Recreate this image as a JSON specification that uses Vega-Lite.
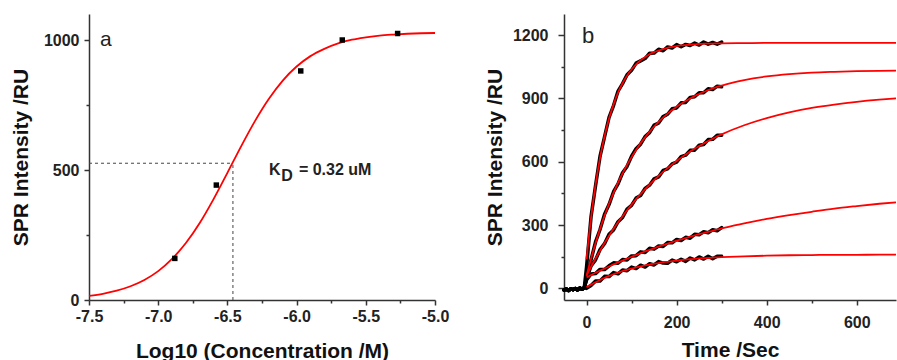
{
  "$schema": "https://vega.github.io/schema/vega-lite/v6.json",
  "background": "white",
  "padding": {"left": 10, "top": 14, "right": 0, "bottom": 0},
  "spacing": 35,
  "config": {
    "view": {"stroke": null},
    "font": "Liberation Sans",
    "axis": {
      "grid": false,
      "domainColor": "#333",
      "domainWidth": 1.5,
      "tickColor": "#333",
      "tickWidth": 1.5,
      "labelFont": "Liberation Sans",
      "labelFontWeight": "bold",
      "labelFontSize": 16,
      "labelColor": "#222",
      "titleFont": "Liberation Sans",
      "titleFontWeight": "bold",
      "titleFontSize": 21,
      "titleColor": "#111",
      "labelFlush": false,
      "labelOverlap": false,
      "labelBound": false
    }
  },
  "hconcat": [
    {
      "width": 346,
      "height": 286,
      "encoding": {
        "x": {
          "field": "x", "type": "quantitative",
          "scale": {"domain": [-7.5, -5.0], "nice": false, "zero": false},
          "axis": {
            "title": "Log10 (Concentration /M)",
            "values": [-7.5, -7.25, -7, -6.75, -6.5, -6.25, -6, -5.75, -5.5, -5.25, -5],
            "labelExpr": "(datum.value * 2) % 1 === 0 ? replace(format(datum.value, '.1f'), '\u2212', '-') : ''",
            "tickSize": {"condition": {"test": "(datum.value * 2) % 1 === 0", "value": 5}, "value": 3},
            "labelPadding": 3,
            "titlePadding": 16
          }
        },
        "y": {
          "field": "y", "type": "quantitative",
          "scale": {"domain": [0, 1100], "nice": false, "zero": false},
          "axis": {
            "title": "SPR Intensity /RU",
            "values": [0, 250, 500, 750, 1000],
            "format": "d",
            "labelExpr": "datum.value % 500 === 0 ? datum.label : ''",
            "tickSize": {"condition": {"test": "datum.value % 500 === 0", "value": 5}, "value": 3},
            "labelPadding": 5,
            "titlePadding": 12
          }
        }
      },
      "layer": [
        {
          "data": {"values": [
            {"x": -7.5, "x2": -6.46, "y": 526, "y2": 526},
            {"x": -6.46, "x2": -6.46, "y": 0, "y2": 526}
          ]},
          "mark": {"type": "rule", "strokeDash": [3, 3], "color": "#444", "strokeWidth": 1},
          "encoding": {"x2": {"field": "x2"}, "y2": {"field": "y2"}}
        },
        {
          "data": {"values": [
            {"x": -7.5, "y": 16}, {"x": -7.4, "y": 24}, {"x": -7.3, "y": 36}, {"x": -7.2, "y": 53},
            {"x": -7.1, "y": 77}, {"x": -7.0, "y": 111}, {"x": -6.9, "y": 158}, {"x": -6.8, "y": 219},
            {"x": -6.7, "y": 296}, {"x": -6.6, "y": 388}, {"x": -6.5, "y": 489}, {"x": -6.4, "y": 592},
            {"x": -6.3, "y": 689}, {"x": -6.2, "y": 774}, {"x": -6.1, "y": 844}, {"x": -6.0, "y": 898},
            {"x": -5.9, "y": 938}, {"x": -5.8, "y": 966}, {"x": -5.7, "y": 987}, {"x": -5.6, "y": 1001},
            {"x": -5.5, "y": 1010}, {"x": -5.4, "y": 1017}, {"x": -5.3, "y": 1021}, {"x": -5.2, "y": 1024},
            {"x": -5.1, "y": 1026}, {"x": -5.0, "y": 1027}
          ]},
          "mark": {"type": "line", "color": "#ff0000", "strokeWidth": 1.8, "interpolate": "monotone"}
        },
        {
          "data": {"values": [
            {"x": -6.88, "y": 160}, {"x": -6.58, "y": 442}, {"x": -5.97, "y": 881},
            {"x": -5.67, "y": 1000}, {"x": -5.27, "y": 1025}
          ]},
          "mark": {"type": "point", "shape": "square", "filled": true, "color": "black", "size": 30, "opacity": 1}
        },
        {
          "data": {"values": [{"x": -7.42, "y": 977, "label": "a"}]},
          "mark": {"type": "text", "align": "left", "baseline": "alphabetic", "fontSize": 21, "color": "#222"},
          "encoding": {"text": {"field": "label"}}
        },
        {
          "data": {"values": [{"x": -6.2, "y": 481, "k": "K", "sub": "D", "rest": "= 0.32 uM"}]},
          "layer": [
            {"mark": {"type": "text", "align": "left", "baseline": "alphabetic", "fontSize": 16, "fontWeight": "bold", "color": "#222"}, "encoding": {"text": {"field": "k"}}},
            {"mark": {"type": "text", "align": "left", "baseline": "alphabetic", "fontSize": 16, "fontWeight": "bold", "color": "#222", "dx": 12.4, "dy": 6}, "encoding": {"text": {"field": "sub"}}},
            {"mark": {"type": "text", "align": "left", "baseline": "alphabetic", "fontSize": 16, "fontWeight": "bold", "color": "#222", "dx": 30}, "encoding": {"text": {"field": "rest"}}}
          ]
        }
      ]
    },
    {
      "width": 332,
      "height": 286,
      "encoding": {
        "x": {
          "field": "t", "type": "quantitative",
          "scale": {"domain": [-50, 687], "nice": false, "zero": false},
          "axis": {
            "title": "Time /Sec",
            "values": [0, 100, 200, 300, 400, 500, 600],
            "labelExpr": "datum.value % 200 === 0 ? datum.label : ''",
            "tickSize": {"condition": {"test": "datum.value % 200 === 0", "value": 5}, "value": 3},
            "labelPadding": 9,
            "titlePadding": 9
          }
        },
        "y": {
          "field": "value", "type": "quantitative",
          "scale": {"domain": [-55, 1300], "nice": false, "zero": false},
          "axis": {
            "title": "SPR Intensity /RU",
            "values": [0, 150, 300, 450, 600, 750, 900, 1050, 1200],
            "format": "d",
            "labelExpr": "datum.value % 300 === 0 ? datum.label : ''",
            "tickSize": {"condition": {"test": "datum.value % 300 === 0", "value": 6}, "value": 3},
            "labelPadding": 10,
            "titlePadding": 7
          }
        }
      },
      "layer": [
        {
          "data": {"values": [
            {"t": -50, "b1": -8, "b2": -8, "b3": -8, "b4": -8, "b5": -8},
            {"t": -45, "b1": -3, "b2": -3, "b3": -3, "b4": -3, "b5": -3},
            {"t": -40, "b1": -10, "b2": -10, "b3": -10, "b4": -10, "b5": -10},
            {"t": -35, "b1": -2, "b2": -2, "b3": -2, "b4": -2, "b5": -2},
            {"t": -30, "b1": -6, "b2": -6, "b3": -6, "b4": -6, "b5": -6},
            {"t": -25, "b1": -1, "b2": -1, "b3": -1, "b4": -1, "b5": -1},
            {"t": -20, "b1": -7, "b2": -7, "b3": -7, "b4": -7, "b5": -7},
            {"t": -15, "b1": 2, "b2": 2, "b3": 2, "b4": 2, "b5": 2},
            {"t": -10, "b1": -4, "b2": -4, "b3": -4, "b4": -4, "b5": -4},
            {"t": -5, "b1": 3, "b2": 3, "b3": 3, "b4": 3, "b5": 3},
            {"t": 0, "b1": 100, "b2": 50, "b3": 45, "b4": 40, "b5": 0},
            {"t": 10, "b1": 339, "b2": 135, "b3": 106, "b4": 68, "b5": 14},
            {"t": 20, "b1": 486, "b2": 220, "b3": 135, "b4": 70, "b5": 35},
            {"t": 30, "b1": 626, "b2": 279, "b3": 184, "b4": 90, "b5": 35},
            {"t": 40, "b1": 718, "b2": 351, "b3": 212, "b4": 89, "b5": 57},
            {"t": 50, "b1": 810, "b2": 397, "b3": 256, "b4": 107, "b5": 56},
            {"t": 60, "b1": 866, "b2": 458, "b3": 277, "b4": 121, "b5": 75},
            {"t": 70, "b1": 935, "b2": 495, "b3": 316, "b4": 119, "b5": 69},
            {"t": 80, "b1": 970, "b2": 548, "b3": 336, "b4": 137, "b5": 87},
            {"t": 90, "b1": 1012, "b2": 578, "b3": 376, "b4": 135, "b5": 84},
            {"t": 100, "b1": 1033, "b2": 626, "b3": 393, "b4": 154, "b5": 101},
            {"t": 110, "b1": 1067, "b2": 662, "b3": 428, "b4": 155, "b5": 94},
            {"t": 120, "b1": 1078, "b2": 683, "b3": 440, "b4": 173, "b5": 110},
            {"t": 130, "b1": 1089, "b2": 719, "b3": 474, "b4": 170, "b5": 101},
            {"t": 140, "b1": 1114, "b2": 738, "b3": 489, "b4": 190, "b5": 117},
            {"t": 150, "b1": 1115, "b2": 774, "b3": 519, "b4": 186, "b5": 111},
            {"t": 160, "b1": 1133, "b2": 783, "b3": 528, "b4": 201, "b5": 127},
            {"t": 170, "b1": 1126, "b2": 814, "b3": 559, "b4": 199, "b5": 120},
            {"t": 180, "b1": 1144, "b2": 825, "b3": 566, "b4": 217, "b5": 119},
            {"t": 190, "b1": 1139, "b2": 851, "b3": 590, "b4": 216, "b5": 134},
            {"t": 200, "b1": 1155, "b2": 855, "b3": 598, "b4": 232, "b5": 126},
            {"t": 210, "b1": 1145, "b2": 879, "b3": 624, "b4": 227, "b5": 138},
            {"t": 220, "b1": 1156, "b2": 881, "b3": 631, "b4": 242, "b5": 128},
            {"t": 230, "b1": 1151, "b2": 905, "b3": 654, "b4": 238, "b5": 144},
            {"t": 240, "b1": 1162, "b2": 908, "b3": 655, "b4": 256, "b5": 135},
            {"t": 250, "b1": 1153, "b2": 927, "b3": 678, "b4": 254, "b5": 149},
            {"t": 260, "b1": 1167, "b2": 927, "b3": 682, "b4": 268, "b5": 139},
            {"t": 270, "b1": 1157, "b2": 946, "b3": 705, "b4": 264, "b5": 152},
            {"t": 280, "b1": 1165, "b2": 942, "b3": 706, "b4": 278, "b5": 140},
            {"t": 290, "b1": 1157, "b2": 958, "b3": 725, "b4": 273, "b5": 152},
            {"t": 300, "b1": 1167, "b2": 955, "b3": 726, "b4": 288, "b5": 152}
          ]},
          "transform": [{"fold": ["b1", "b2", "b3", "b4", "b5"], "as": ["key", "value"]}],
          "mark": {"type": "line", "color": "black", "strokeWidth": 3.5, "strokeJoin": "round", "strokeCap": "round"},
          "encoding": {"detail": {"field": "key"}}
        },
        {
          "data": {"values": [
            {"t": 0, "c1": 139, "c2": 60, "c3": 60, "c4": 52, "c5": 5},
            {"t": 10, "c1": 333, "c2": 140, "c3": 102, "c4": 63, "c5": 18},
            {"t": 20, "c1": 490, "c2": 214, "c3": 141, "c4": 74, "c5": 29},
            {"t": 30, "c1": 618, "c2": 282, "c3": 179, "c4": 84, "c5": 40},
            {"t": 40, "c1": 721, "c2": 344, "c3": 215, "c4": 94, "c5": 50},
            {"t": 50, "c1": 805, "c2": 401, "c3": 249, "c4": 104, "c5": 59},
            {"t": 60, "c1": 872, "c2": 453, "c3": 282, "c4": 114, "c5": 67},
            {"t": 70, "c1": 928, "c2": 501, "c3": 313, "c4": 123, "c5": 75},
            {"t": 80, "c1": 972, "c2": 545, "c3": 342, "c4": 132, "c5": 82},
            {"t": 90, "c1": 1008, "c2": 585, "c3": 370, "c4": 141, "c5": 88},
            {"t": 100, "c1": 1038, "c2": 622, "c3": 397, "c4": 150, "c5": 94},
            {"t": 110, "c1": 1061, "c2": 656, "c3": 423, "c4": 158, "c5": 99},
            {"t": 120, "c1": 1081, "c2": 688, "c3": 447, "c4": 167, "c5": 104},
            {"t": 130, "c1": 1096, "c2": 716, "c3": 470, "c4": 175, "c5": 109},
            {"t": 140, "c1": 1109, "c2": 742, "c3": 492, "c4": 183, "c5": 113},
            {"t": 150, "c1": 1119, "c2": 767, "c3": 513, "c4": 190, "c5": 117},
            {"t": 160, "c1": 1127, "c2": 789, "c3": 533, "c4": 198, "c5": 120},
            {"t": 170, "c1": 1134, "c2": 809, "c3": 552, "c4": 205, "c5": 124},
            {"t": 180, "c1": 1140, "c2": 828, "c3": 570, "c4": 212, "c5": 126},
            {"t": 190, "c1": 1144, "c2": 845, "c3": 587, "c4": 219, "c5": 129},
            {"t": 200, "c1": 1148, "c2": 860, "c3": 604, "c4": 226, "c5": 132},
            {"t": 210, "c1": 1151, "c2": 875, "c3": 619, "c4": 232, "c5": 134},
            {"t": 220, "c1": 1153, "c2": 888, "c3": 634, "c4": 238, "c5": 136},
            {"t": 230, "c1": 1155, "c2": 900, "c3": 648, "c4": 245, "c5": 138},
            {"t": 240, "c1": 1156, "c2": 911, "c3": 662, "c4": 251, "c5": 140},
            {"t": 250, "c1": 1158, "c2": 921, "c3": 674, "c4": 257, "c5": 142},
            {"t": 260, "c1": 1159, "c2": 931, "c3": 687, "c4": 262, "c5": 143},
            {"t": 270, "c1": 1160, "c2": 939, "c3": 698, "c4": 268, "c5": 144},
            {"t": 280, "c1": 1160, "c2": 947, "c3": 709, "c4": 273, "c5": 146},
            {"t": 290, "c1": 1161, "c2": 955, "c3": 720, "c4": 279, "c5": 147},
            {"t": 300, "c1": 1161, "c2": 961, "c3": 730, "c4": 284, "c5": 148},
            {"t": 350, "c1": 1162, "c2": 987, "c3": 773, "c4": 308, "c5": 152},
            {"t": 400, "c1": 1163, "c2": 1004, "c3": 807, "c4": 329, "c5": 155},
            {"t": 450, "c1": 1163, "c2": 1015, "c3": 834, "c4": 347, "c5": 157},
            {"t": 500, "c1": 1163, "c2": 1022, "c3": 855, "c4": 363, "c5": 158},
            {"t": 550, "c1": 1163, "c2": 1026, "c3": 871, "c4": 378, "c5": 159},
            {"t": 600, "c1": 1163, "c2": 1029, "c3": 884, "c4": 390, "c5": 159},
            {"t": 650, "c1": 1163, "c2": 1031, "c3": 894, "c4": 401, "c5": 160},
            {"t": 687, "c1": 1163, "c2": 1032, "c3": 900, "c4": 408, "c5": 160}
          ]},
          "transform": [{"fold": ["c1", "c2", "c3", "c4", "c5"], "as": ["key", "value"]}],
          "mark": {"type": "line", "color": "#ff0000", "strokeWidth": 1.8, "interpolate": "monotone"},
          "encoding": {"detail": {"field": "key"}}
        },
        {
          "data": {"values": [{"t": -10, "value": 1163, "label": "b"}]},
          "mark": {"type": "text", "align": "left", "baseline": "alphabetic", "fontSize": 22, "color": "#222"},
          "encoding": {"text": {"field": "label"}}
        }
      ]
    }
  ]
}
